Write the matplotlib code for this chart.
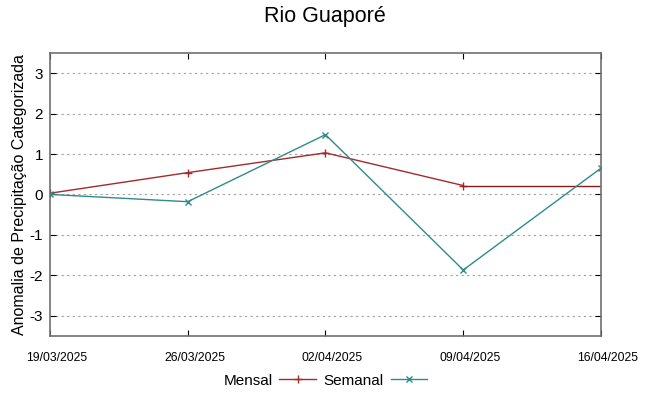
import matplotlib
matplotlib.use("Agg")
import matplotlib.pyplot as plt
import matplotlib.transforms as mtransforms
import numpy as np

plt.rcParams['font.family'] = ['Liberation Sans', 'DejaVu Sans']

datas = ['19/03/2025', '26/03/2025', '02/04/2025', '09/04/2025', '16/04/2025']
mensal = [0.03, 0.54, 1.03, 0.22]
mensal_ultimo = 0.22  # valor mantido ate o fim
semanal = [0.0, -0.18, 1.48, -1.87, 0.65]
yticks = [-3, -2, -1, 0, 1, 2, 3]

cor_mensal = '#a52a2a'
cor_semanal = '#2e8b8b'

fig = plt.figure(figsize=(6.49, 3.96), dpi=100)
ax = fig.add_axes([0.077, 0.152, 0.849, 0.714])

x = np.arange(len(datas))
ax.plot(x[:len(mensal)], mensal, color=cor_mensal, lw=1, marker='+', ms=6, mew=1, label='Mensal')
ax.plot([x[len(mensal) - 1], x[-1]], [mensal[-1], mensal_ultimo], color='#8b1a1a', lw=1)
ax.plot(x, semanal, color=cor_semanal, lw=1, marker='x', ms=5, mew=1, label='Semanal')

ax.set_xlim(x[0], x[-1])
ax.set_ylim(-3.5, 3.5)
ax.set_xticks(x)
ax.set_xticklabels(datas, fontsize=8.8)
ax.set_yticks(yticks)
ax.set_yticklabels([str(v) for v in yticks], fontsize=11)
ax.tick_params(axis='y', right=True, direction='in', length=4, pad=5)
ax.tick_params(axis='x', top=True, direction='in', length=4, pad=12)
ax.grid(axis='y', linestyle=(0, (2, 3)), color='#a0a0a0', lw=0.8)
for s in ax.spines.values():
    s.set_color('#707070')
    s.set_linewidth(1.2)

# rotulos de data levemente deslocados para a direita (como no original)
desloc = mtransforms.ScaledTranslation(7 / 100, 0, fig.dpi_scale_trans)
for lbl in ax.get_xticklabels():
    lbl.set_transform(lbl.get_transform() + desloc)

ax.set_ylabel('Anomalia de Precipitação Categorizada', fontsize=11.5, labelpad=2)
fig.suptitle('Rio Guaporé', fontsize=15.5, y=0.985)

ax.legend(loc='upper center', bbox_to_anchor=(0.5, -0.085), ncol=2, frameon=False,
          markerfirst=False, handlelength=2.4, fontsize=11, columnspacing=0.5,
          handletextpad=0.45)

fig.savefig('out.png', dpi=100)
